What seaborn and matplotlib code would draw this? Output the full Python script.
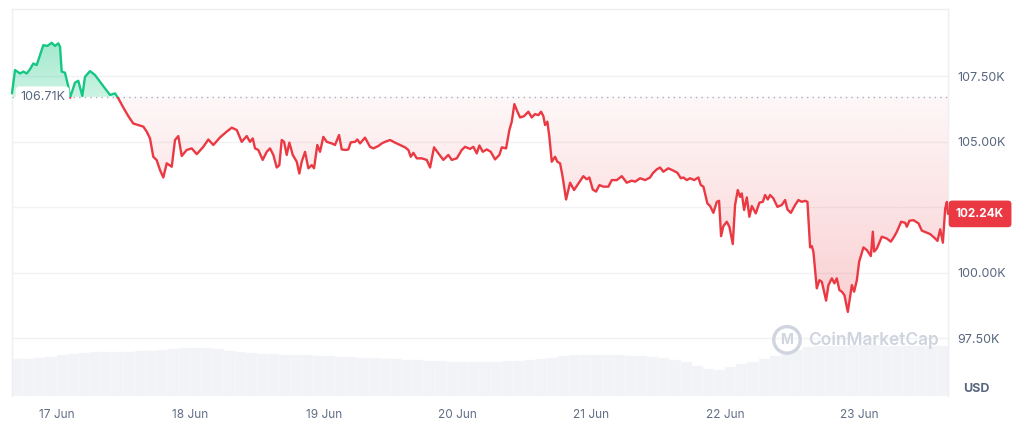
import matplotlib as mpl
mpl.use('Agg')
import matplotlib.pyplot as plt
import matplotlib.dates as mdates
from matplotlib.colors import to_rgb
from matplotlib.path import Path
from matplotlib.patches import Rectangle
import numpy as np
import pandas as pd
import seaborn as sns

# price samples: hours since 16 Jun 16:00, price in thousand USD
hours = [0.00, 0.54, 1.44, 2.03, 2.64, 3.23, 3.82, 4.43, 5.03, 5.62,
         6.34, 7.13, 7.72, 8.31, 8.62, 8.92, 9.51, 10.11, 10.41, 11.31,
         11.90, 12.62, 13.10, 14.00, 14.90, 15.80, 16.69, 17.59, 18.49, 19.08,
         19.98, 20.88, 21.77, 22.67, 23.57, 24.18, 24.77, 25.36, 25.97, 26.57,
         27.16, 27.77, 28.67, 29.26, 29.85, 30.46, 31.36, 32.26, 33.16, 34.34,
         35.24, 36.14, 37.34, 38.54, 39.44, 40.34, 41.23, 42.13, 42.72, 43.21,
         43.62, 44.21, 45.00, 45.72, 46.31, 46.91, 47.52, 47.98, 48.41, 48.83,
         49.31, 49.78, 50.39, 51.11, 51.57, 52.00, 52.60, 53.19, 53.80, 54.21,
         54.80, 55.29, 55.88, 56.49, 57.39, 57.98, 58.70, 59.18, 59.96, 60.37,
         60.80, 61.57, 61.98, 62.47, 63.37, 64.26, 64.86, 65.75, 66.37, 66.96,
         67.86, 68.75, 69.65, 70.55, 71.14, 71.57, 72.04, 72.65, 73.55, 74.44,
         75.04, 75.75, 76.53, 77.42, 78.32, 78.93, 79.83, 80.73, 81.32, 82.22,
         82.81, 83.42, 83.89, 84.50, 85.21, 85.93, 86.70, 87.48, 87.91, 88.68,
         89.27, 89.70, 90.17, 90.60, 91.19, 91.91, 92.68, 93.29, 93.88, 94.48,
         94.96, 95.37, 95.68, 96.09, 96.45, 96.88, 97.47, 97.89, 98.37, 98.78,
         99.45, 100.17, 100.88, 101.66, 102.55, 103.16, 103.63, 104.24, 104.83, 105.43,
         106.14, 107.04, 107.65, 108.55, 109.45, 110.34, 111.24, 111.84, 112.74, 113.63,
         114.53, 115.01, 115.73, 116.32, 116.91, 117.81, 118.71, 119.43, 120.04, 120.51,
         121.12, 121.71, 122.43, 123.20, 123.63, 124.10, 124.81, 125.30, 125.89, 126.50,
         126.91, 127.27, 127.68, 128.29, 128.76, 129.37, 129.78, 130.27, 130.68, 130.99,
         131.40, 131.89, 132.35, 132.79, 133.50, 134.15, 134.76, 135.17, 135.66, 136.07,
         136.66, 137.38, 138.17, 138.76, 139.18, 139.79, 140.56, 141.15, 141.76, 142.36,
         142.77, 143.25, 143.56, 143.84, 144.45, 144.92, 145.35, 146.12, 146.54, 147.15,
         147.61, 148.04, 148.51, 148.94, 149.41, 150.02, 150.74, 151.15, 151.64, 152.05,
         152.82, 153.43, 154.15, 154.51, 154.74, 155.23, 156.12, 157.02, 157.74, 158.33,
         158.82, 159.59, 160.31, 160.61, 161.08, 161.80, 162.70, 163.31, 164.21, 164.80,
         165.70, 166.11, 166.60, 167.08, 167.50, 167.80, 168.00]

prices = [106.84, 107.73, 107.60, 107.67, 107.60, 107.76, 107.98, 107.92, 108.30, 108.68,
          108.65, 108.77, 108.65, 108.75, 108.62, 107.67, 107.63, 107.09, 106.67, 107.25,
          107.32, 106.74, 107.47, 107.69, 107.54, 107.28, 107.03, 106.78, 106.84, 106.65,
          106.30, 105.97, 105.69, 105.63, 105.57, 105.38, 105.12, 104.42, 104.29, 103.91,
          103.63, 104.17, 104.04, 105.06, 105.21, 104.45, 104.68, 104.74, 104.52, 104.80,
          105.08, 104.87, 105.16, 105.38, 105.53, 105.44, 104.99, 105.21, 104.99, 105.12,
          104.74, 104.68, 104.30, 104.61, 104.74, 104.49, 104.01, 104.10, 105.06, 104.99,
          104.49, 104.96, 104.49, 104.23, 103.78, 104.23, 104.61, 103.98, 104.10, 103.98,
          104.87, 104.61, 105.18, 104.99, 104.93, 104.87, 105.25, 104.70, 104.68, 104.70,
          104.97, 104.99, 105.08, 104.93, 105.15, 104.80, 104.74, 104.83, 104.93, 104.99,
          105.06, 104.96, 104.87, 104.78, 104.68, 104.42, 104.57, 104.36, 104.36, 104.30,
          104.01, 104.78, 104.55, 104.30, 104.49, 104.30, 104.36, 104.68, 104.80, 104.72,
          104.80, 104.55, 104.85, 104.61, 104.70, 104.61, 104.32, 104.49, 104.78, 104.74,
          105.44, 105.76, 106.43, 106.20, 105.92, 105.97, 106.14, 105.92, 106.05, 106.01,
          106.14, 105.97, 105.63, 105.76, 105.18, 104.23, 104.42, 104.23, 104.17, 103.72,
          102.79, 103.43, 103.15, 103.40, 103.68, 103.56, 103.63, 103.17, 103.09, 103.34,
          103.28, 103.28, 103.53, 103.53, 103.68, 103.43, 103.51, 103.47, 103.60, 103.53,
          103.63, 103.79, 103.94, 104.01, 103.85, 103.98, 103.89, 103.81, 103.60, 103.63,
          103.53, 103.60, 103.53, 103.63, 103.34, 103.28, 102.64, 102.54, 102.28, 102.70,
          102.74, 101.39, 101.77, 101.94, 101.75, 101.09, 102.58, 103.15, 102.89, 103.02,
          102.39, 102.87, 102.13, 102.54, 102.26, 102.67, 102.70, 102.96, 102.79, 102.96,
          102.83, 102.51, 102.58, 102.77, 102.41, 102.28, 102.58, 102.77, 102.70, 102.74,
          102.70, 100.96, 101.01, 100.80, 99.40, 99.71, 99.65, 98.93, 99.52, 99.78,
          99.59, 99.78, 99.33, 99.27, 99.14, 98.50, 99.52, 99.27, 99.71, 100.41,
          100.96, 100.86, 100.63, 101.56, 100.80, 100.92, 101.37, 101.30, 101.18, 101.37,
          101.56, 101.94, 101.90, 101.75, 101.98, 102.00, 101.88, 101.60, 101.52, 101.47,
          101.30, 101.21, 101.65, 101.14, 102.45, 102.70, 102.24]

# 24h volume (bn USD), one bar per 2 hours
volume = [37, 37, 38, 39, 41, 42, 43, 44, 44, 44,
          44, 45, 45, 46, 47, 48, 48, 48, 47, 45,
          44, 43, 42, 42, 41, 41, 41, 40, 40, 39,
          39, 38, 38, 37, 37, 36, 36, 35, 35, 34,
          34, 34, 34, 34, 35, 35, 36, 37, 38, 40,
          41, 41, 41, 41, 41, 40, 40, 39, 38, 36,
          34, 30, 27, 26, 29, 32, 34, 37, 40, 42,
          46, 49, 50, 50, 50, 51, 51, 51, 50, 50,
          50, 50, 50, 50]

open_price = 106.71
last_price = 102.24
price_ticks = [97.5, 100.0, 102.5, 105.0, 107.5]
tick_labels = ['97.50K', '100.00K', '', '105.00K', '107.50K']

GREEN = '#16c784'
RED = '#ea3943'
GREY = '#58667e'

t0 = pd.Timestamp('2025-06-16 16:00')
t1 = t0 + pd.Timedelta(hours=168)
df = pd.DataFrame({'time': t0 + pd.to_timedelta(hours, unit='h'), 'price': prices})
vol_time = t0 + pd.to_timedelta(np.arange(len(volume)) * 2 + 1, unit='h')

sns.set_theme(style='white')
plt.rcParams['font.family'] = ['Inter', 'DejaVu Sans']

fig = plt.figure(figsize=(10.23, 4.21), dpi=100)
ax = fig.add_axes([12/1023, 25/421, 936/1023, 387/421])
axv = ax.twinx()
ax.set_zorder(2)
ax.patch.set_visible(False)

# volume underneath
axv.bar(vol_time, volume, width=2/24, color='#f1f3f6', edgecolor='#f8f9fb', linewidth=0.3)
axv.set_ylim(0, 387)
axv.set_yticks([])
for s in axv.spines.values():
    s.set_visible(False)

ymin, ymax = 95.29, 110.06
x0, x1 = mdates.date2num(t0), mdates.date2num(t1)

sns.lineplot(data=df, x='time', y='price', ax=ax, color=RED, lw=1.7, errorbar=None, zorder=4)
line_r = ax.lines[-1]
sns.lineplot(data=df, x='time', y='price', ax=ax, color=GREEN, lw=1.7, errorbar=None, zorder=4)
line_g = ax.lines[-1]
clip_r = Rectangle((x0 - 1, ymin - 5), x1 - x0 + 2, open_price - ymin + 5, transform=ax.transData)
clip_g = Rectangle((x0 - 1, open_price), x1 - x0 + 2, ymax - open_price + 5, transform=ax.transData)
line_r.set_clip_path(clip_r)
line_g.set_clip_path(clip_g)

# gradient fills clipped to the area between price and open
xnum = mdates.date2num(df['time'])
p = np.array(prices)

def grad_fill(mask, color, y_lo, y_hi, a_lo, a_hi):
    poly = ax.fill_between(xnum, p, open_price, where=mask, interpolate=True,
                           facecolor='none', edgecolor='none')
    path = Path.make_compound_path(*poly.get_paths())
    img = np.zeros((256, 1, 4))
    img[..., :3] = to_rgb(color)
    img[:, 0, 3] = np.linspace(a_lo, a_hi, 256)
    im = ax.imshow(img, extent=[x0, x1, y_lo, y_hi], origin='lower', aspect='auto',
                   interpolation='bilinear', zorder=2)
    im.set_clip_path(path, transform=ax.transData)

grad_fill(p <= open_price, RED, ymin, open_price, 0.32, 0.04)
grad_fill(p >= open_price, GREEN, open_price, ymax, 0.22, 0.5)

ax.axhline(open_price, color='#a6b0c3', lw=1, ls=(0, (1, 3)), zorder=3)

ax.set_xlim(t0, t1)
ax.set_ylim(ymin, ymax)
ax.set_yticks(price_ticks)
ax.set_yticklabels(tick_labels)
ax.yaxis.tick_right()
ax.grid(axis='y', color='#f0f2f6', lw=1)
ax.grid(axis='x', visible=False)
ax.set_xlabel('')
ax.set_ylabel('')
ax.xaxis.set_major_locator(mdates.DayLocator())
ax.xaxis.set_major_formatter(mdates.DateFormatter('%d %b'))
ax.tick_params(axis='y', length=0, pad=7, labelsize=9, labelcolor=GREY)
ax.tick_params(axis='x', length=0, pad=9, labelsize=8.5, labelcolor='#616e85')
for side in ['top', 'left', 'right']:
    ax.spines[side].set_color('#eceff3')
    ax.spines[side].set_linewidth(1)
ax.spines['bottom'].set_visible(False)

ax.annotate('106.71K', xy=(0, open_price), xycoords=('axes fraction', 'data'),
            xytext=(8, 0), textcoords='offset pixels', va='center', ha='left',
            fontsize=9, color=GREY,
            bbox=dict(boxstyle='round,pad=0.35', fc='white', ec='none'), zorder=6)
ax.annotate('102.24K', xy=(1, last_price), xycoords=('axes fraction', 'data'),
            xytext=(8, 0), textcoords='offset pixels', va='center', ha='left',
            fontsize=8.5, fontweight='bold', color='white', annotation_clip=False,
            bbox=dict(boxstyle='round,pad=0.62,rounding_size=0.3', fc=RED, ec='none'), zorder=6)

# watermark
ax.text(0.828, 0.145, 'M', transform=ax.transAxes, ha='center', va='center', fontsize=10,
        fontweight='bold', color='#cfd4de', zorder=1,
        bbox=dict(boxstyle='circle,pad=0.45', fc='none', ec='#cfd4de', lw=2.4))
ax.text(0.851, 0.145, 'CoinMarketCap', transform=ax.transAxes, ha='left', va='center',
        fontsize=12.5, fontweight='semibold', color='#cfd4de', zorder=1)

fig.text(976/1023, 1 - 389/421, 'USD', ha='center', va='center', fontweight='bold',
         color=GREY, fontsize=9)

fig.savefig('out.png', dpi=100)
